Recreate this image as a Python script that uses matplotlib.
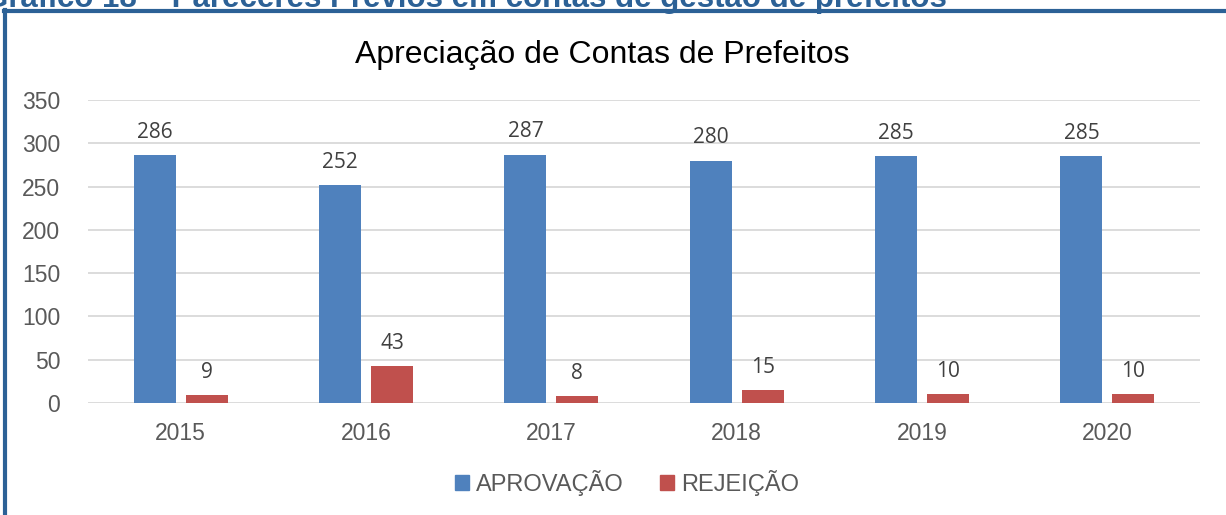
import matplotlib.pyplot as plt
import numpy as np
from matplotlib.lines import Line2D
from matplotlib.patches import Patch

anos = ['2015', '2016', '2017', '2018', '2019', '2020']
aprovacao = [286, 252, 287, 280, 285, 285]
rejeicao = [9, 43, 8, 15, 10, 10]

azul = '#4F81BD'
vermelho = '#C0504D'
cinza = '#595959'
borda = '#2C6196'

plt.rcParams['font.family'] = ['Liberation Sans', 'DejaVu Sans']

fig = plt.figure(figsize=(12.26, 5.15), dpi=100)
ax = fig.add_axes([88 / 1226, 1 - 403 / 515, 1112 / 1226, 303 / 515])

x = np.arange(len(anos))
w = 0.226
b1 = ax.bar(x - 0.14, aprovacao, w, color=azul, zorder=3)
b2 = ax.bar(x + 0.14, rejeicao, w, color=vermelho, zorder=3)

for rect, v in zip(list(b1) + list(b2), aprovacao + rejeicao):
    ax.text(rect.get_x() + rect.get_width() / 2, v + 14, str(v),
            ha='center', va='bottom', fontsize=15, color='#404040',
            family=['Open Sans', 'DejaVu Sans'])

ax.set_xlim(-0.5, len(anos) - 0.5)
ax.set_ylim(0, 350)
ax.set_yticks(range(0, 351, 50))
ax.set_xticks(x)
ax.set_xticklabels(anos)
ax.tick_params(axis='both', length=0, labelsize=16.5, labelcolor=cinza)
ax.tick_params(axis='y', pad=20)
ax.tick_params(axis='x', pad=14)
ax.grid(axis='y', color='#D9D9D9', linewidth=1.3, zorder=0)
for s in ax.spines.values():
    s.set_visible(False)

fig.text(602 / 1226, 1 - 55 / 515, 'Apreciação de Contas de Prefeitos',
         ha='center', va='center', fontsize=23, color='black')

handles = [Patch(color=azul, label='APROVAÇÃO'), Patch(color=vermelho, label='REJEIÇÃO')]
fig.legend(handles=handles, loc='center', bbox_to_anchor=(627 / 1226, 1 - 483 / 515),
           ncol=2, frameon=False, fontsize=17, handlelength=0.6, handleheight=0.6,
           handletextpad=0.3, columnspacing=1.5, labelcolor=cinza)

# moldura e título do documento (cortado no topo)
fig.text(-16 / 1226, 1 - 7 / 515, 'Gráfico 18 – Pareceres Prévios em contas de gestão de prefeitos',
         ha='left', va='baseline', fontsize=22.5, fontweight='bold', color=borda)
fig.add_artist(Line2D([5.5 / 1226, 5.5 / 1226], [0, 1 - 10 / 515], color=borda, linewidth=3))
fig.add_artist(Line2D([4 / 1226, 1], [1 - 11 / 515, 1 - 11 / 515], color=borda, linewidth=3))

fig.savefig('out.png', dpi=100)
